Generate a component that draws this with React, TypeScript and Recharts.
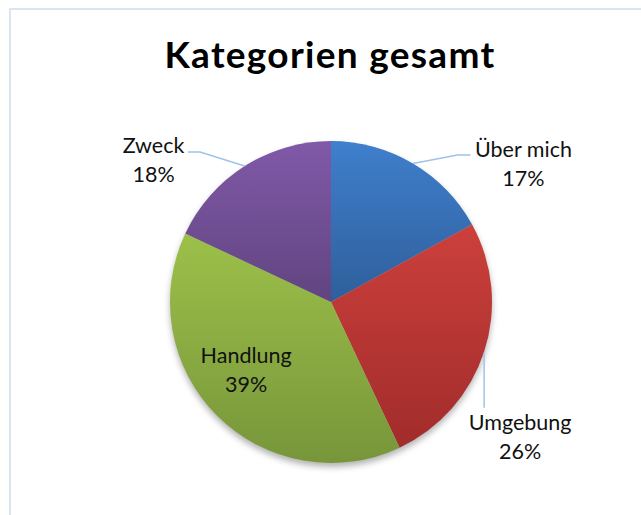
import { PieChart, Pie, Cell } from 'recharts';

// chart values
const categories = ['Über mich', 'Umgebung', 'Handlung', 'Zweck'];
const shares = [17, 26, 39, 18];

// gradient stops per slice (top, bottom)
const topColors = ['#3f7fcc', '#cc403c', '#9cc04a', '#8059a8'];
const bottomColors = ['#2f5f9b', '#a12c2b', '#77963a', '#614480'];

const data = categories.map((name, i) => ({ name, value: shares[i] }));

// label placement relative to the slice's outer edge point at its mid angle
const labelLayout = [
    { line: [[0, 0], [44.5, -8.5], [57.5, -8.5]], text: [110.5, -6.5] },
    { line: [[0, 1], [0, 56]], text: [36, 78] },
    { line: null, text: [29, -53] },
    { line: [[0, 0], [-44.7, -14], [-56.7, -14]], text: [-91.2, -13] },
];

const RAD = Math.PI / 180;

const renderLabel = (props: any) => {
    const { cx, cy, midAngle, outerRadius, percent, name, index } = props;
    const ex = cx + outerRadius * Math.cos(-midAngle * RAD);
    const ey = cy + outerRadius * Math.sin(-midAngle * RAD);
    const lay = labelLayout[index];
    const tx = ex + lay.text[0];
    const ty = ey + lay.text[1];
    return (
        <g key={`lbl-${index}`}>
            {lay.line && (
                <polyline
                    points={lay.line.map((p) => `${ex + p[0]},${ey + p[1]}`).join(' ')}
                    fill="none"
                    stroke="#9dc3e6"
                    strokeWidth={1.5}
                />
            )}
            <text
                x={tx}
                y={ty}
                textAnchor="middle"
                fill="#111"
                fontFamily="Lato, sans-serif"
                fontSize={21.5}
            >
                <tspan x={tx} y={ty}>{name}</tspan>
                <tspan x={tx} y={ty + 29}>{`${Math.round(percent * 100)}%`}</tspan>
            </text>
        </g>
    );
};

export default function App() {
    return (
        <div
            style={{
                position: 'absolute',
                top: 0,
                left: 0,
                width: 641,
                height: 515,
                overflow: 'hidden',
                background: '#fff',
            }}
        >
            <div
                style={{
                    position: 'absolute',
                    left: 9,
                    top: 8,
                    width: 632,
                    height: 507,
                    boxSizing: 'border-box',
                    borderTop: '2px solid #dae4f3',
                    borderLeft: '2px solid #dae4f3',
                }}
            />
            <svg
                width={641}
                height={120}
                style={{ position: 'absolute', left: 0, top: 0 }}
            >
                <defs>
                    {categories.map((_, i) => (
                        <linearGradient key={i} id={`slice${i}`} x1="0" y1="0" x2="0" y2="1">
                            <stop offset="0%" stopColor={topColors[i]} />
                            <stop offset="100%" stopColor={bottomColors[i]} />
                        </linearGradient>
                    ))}
                    <filter id="pieBlur" x="-20%" y="-20%" width="140%" height="140%">
                        <feGaussianBlur stdDeviation="3" />
                    </filter>
                </defs>
                <text
                    x={330}
                    y={68}
                    textAnchor="middle"
                    fontFamily="Lato, sans-serif"
                    fontWeight="bold"
                    fontSize={37}
                    letterSpacing={1.3}
                    fill="#000"
                >
                    Kategorien gesamt
                </text>
            </svg>
            <div style={{ position: 'absolute', left: 0, top: 0 }}>
                <PieChart width={641} height={515} margin={{ top: 0, right: 0, bottom: 0, left: 0 }}>
                    <Pie
                        data={data}
                        dataKey="value"
                        nameKey="name"
                        cx={331}
                        cy={306}
                        outerRadius={161}
                        startAngle={90}
                        endAngle={-270}
                        stroke="none"
                        isAnimationActive={false}
                        label={false}
                        labelLine={false}
                    >
                        {data.map((_, i) => (
                            <Cell key={i} fill="#000" fillOpacity={0.3} filter="url(#pieBlur)" />
                        ))}
                    </Pie>
                    <Pie
                        data={data}
                        dataKey="value"
                        nameKey="name"
                        cx={331}
                        cy={302}
                        outerRadius={161}
                        startAngle={90}
                        endAngle={-270}
                        stroke="none"
                        isAnimationActive={false}
                        label={renderLabel}
                        labelLine={false}
                    >
                        {data.map((_, i) => (
                            <Cell key={i} fill={`url(#slice${i})`} />
                        ))}
                    </Pie>
                </PieChart>
            </div>
        </div>
    );
}
